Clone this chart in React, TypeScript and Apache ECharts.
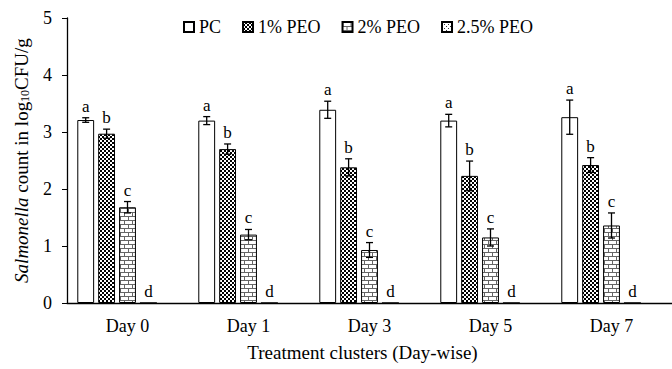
import React, { useEffect, useRef } from "react";
import * as echarts from "echarts";

const categories = ["Day 0", "Day 1", "Day 3", "Day 5", "Day 7"];
const seriesNames = ["PC", "1% PEO", "2% PEO", "2.5% PEO"];
const pcValues = [3.21, 3.2, 3.39, 3.2, 3.26];
const pcErrors = [0.04, 0.07, 0.15, 0.11, 0.3];
const peo1Values = [2.97, 2.7, 2.38, 2.23, 2.42];
const peo1Errors = [0.08, 0.09, 0.15, 0.26, 0.13];
const peo2Values = [1.68, 1.2, 0.93, 1.15, 1.36];
const peo2Errors = [0.1, 0.09, 0.13, 0.15, 0.22];
const peo25Values = [0, 0, 0, 0, 0];
const peo25Errors = [0, 0, 0, 0, 0];
const pcLetters = ["a", "a", "a", "a", "a"];
const peo1Letters = ["b", "b", "b", "b", "b"];
const peo2Letters = ["c", "c", "c", "c", "c"];
const peo25Letters = ["d", "d", "d", "d", "d"];

const FONT = "Liberation Serif";
const CAT_GAP = 0.17;
const BAR_GAP = 0.24;
const SLOTS = 5;

function makeTile(size: number, draw: (ctx: CanvasRenderingContext2D) => void) {
  const c = document.createElement("canvas");
  c.width = size;
  c.height = size;
  const ctx = c.getContext("2d") as CanvasRenderingContext2D;
  draw(ctx);
  return { image: c, repeat: "repeat", imageWidth: size, imageHeight: size } as any;
}

export default function App() {
  const ref = useRef<HTMLDivElement>(null);
  useEffect(() => {
    if (!ref.current) return;
    const chart = echarts.init(ref.current, null, { renderer: "svg" });

    const checker = makeTile(4, (ctx) => {
      ctx.fillStyle = "#000";
      ctx.fillRect(0, 0, 4, 4);
      ctx.fillStyle = "#fff";
      ctx.fillRect(0, 0, 2, 2);
      ctx.fillRect(2, 2, 2, 2);
    });
    const brick = makeTile(8, (ctx) => {
      ctx.fillStyle = "#fff";
      ctx.fillRect(0, 0, 8, 8);
      ctx.fillStyle = "#666";
      ctx.fillRect(0, 0, 8, 1);
      ctx.fillRect(0, 4, 8, 1);
      ctx.fillRect(0, 1, 1, 3);
      ctx.fillRect(4, 5, 1, 3);
    });
    const diamond = makeTile(8, (ctx) => {
      ctx.fillStyle = "#fff";
      ctx.fillRect(0, 0, 8, 8);
      ctx.fillStyle = "#333";
      const pts = [
        [4, 0], [6, 2], [4, 4], [2, 2], [0, 4], [2, 6], [6, 6],
      ];
      pts.forEach(([x, y]) => ctx.fillRect(x, y, 1, 1));
    });

    const values = [pcValues, peo1Values, peo2Values, peo25Values];
    const errors = [pcErrors, peo1Errors, peo2Errors, peo25Errors];
    const letters = [pcLetters, peo1Letters, peo2Letters, peo25Letters];
    const fills = ["#ffffff", checker, brick, diamond];

    const barSeries: any[] = seriesNames.map((name, s) => ({
      name,
      type: "bar",
      data: values[s],
      barCategoryGap: CAT_GAP * 100 + "%",
      barGap: BAR_GAP * 100 + "%",
      itemStyle: { color: fills[s], borderColor: "#000", borderWidth: 1 },
    }));
    barSeries.push({
      name: "spacer",
      type: "bar",
      data: categories.map(() => "-"),
      barCategoryGap: CAT_GAP * 100 + "%",
      barGap: BAR_GAP * 100 + "%",
    });

    const errSeries: any[] = seriesNames.map((name, s) => ({
      name: name + " err",
      type: "custom",
      data: values[s].map((v, i) => [i, v, errors[s][i]]),
      encode: { x: 0, y: 1 },
      z: 5,
      renderItem: (params: any, api: any) => {
        const cat = api.value(0);
        const mean = api.value(1);
        const e = api.value(2);
        const center = api.coord([cat, mean]);
        const band = api.size([1, 0])[0];
        const barW = (band * (1 - CAT_GAP)) / (SLOTS + (SLOTS - 1) * BAR_GAP);
        const gapW = barW * BAR_GAP;
        const total = SLOTS * barW + (SLOTS - 1) * gapW;
        const x = center[0] - total / 2 + s * (barW + gapW) + barW / 2;
        const top = api.coord([cat, mean + e])[1];
        const bot = api.coord([cat, mean - e])[1];
        const children: any[] = [];
        const ls = { stroke: "#000", lineWidth: 1.3 };
        if (e > 0) {
          children.push({ type: "line", shape: { x1: x, y1: top, x2: x, y2: bot }, style: ls });
          children.push({ type: "line", shape: { x1: x - 3.5, y1: top, x2: x + 3.5, y2: top }, style: ls });
          children.push({ type: "line", shape: { x1: x - 3.5, y1: bot, x2: x + 3.5, y2: bot }, style: ls });
        }
        children.push({
          type: "text",
          x: x,
          y: top - 3,
          style: {
            text: letters[s][params.dataIndex],
            fill: "#000",
            font: "17px " + FONT,
            align: "center",
            verticalAlign: "bottom",
          },
        });
        return { type: "group", children };
      },
    }));

    chart.setOption({
      animation: false,
      backgroundColor: "#fff",
      grid: { left: 67, top: 18, width: 609, bottom: 66 },
      legend: {
        data: seriesNames,
        left: 178,
        top: 13,
        itemWidth: 10,
        itemHeight: 10,
        itemGap: 21,
        icon: "rect",
        textStyle: { fontFamily: FONT, fontSize: 18, color: "#000" },
      },
      xAxis: {
        type: "category",
        data: categories,
        name: "Treatment clusters (Day-wise)",
        nameLocation: "middle",
        nameGap: 40,
        nameTextStyle: { fontFamily: FONT, fontSize: 19, color: "#000", padding: [0, 14, 0, 0] },
        axisLine: { lineStyle: { color: "#000", width: 1.3 } },
        axisTick: { show: false },
        axisLabel: { fontFamily: FONT, fontSize: 18, color: "#000", margin: 14 },
      },
      yAxis: {
        type: "value",
        min: 0,
        max: 5,
        interval: 1,
        name: "{i|Salmonella} count in log{s|10}CFU/g",
        nameLocation: "middle",
        nameGap: 36,
        nameTextStyle: {
          fontFamily: FONT,
          fontSize: 19,
          color: "#000",
          rich: {
            i: { fontFamily: FONT, fontSize: 19, fontStyle: "italic", color: "#000" },
            s: { fontFamily: FONT, fontSize: 12, color: "#000", verticalAlign: "bottom", padding: [7, 0, 0, 0] },
          },
        },
        axisLine: { show: true, lineStyle: { color: "#000", width: 1.3 } },
        axisTick: { show: true, inside: false, length: 5, lineStyle: { color: "#000" } },
        axisLabel: { fontFamily: FONT, fontSize: 18, color: "#000", margin: 15 },
        splitLine: { show: false },
      },
      series: [...barSeries, ...errSeries],
    });
    return () => chart.dispose();
  }, []);
  return (
    <div
      ref={ref}
      style={{ position: "fixed", left: 0, top: 0, width: 672, height: 369, background: "#fff" }}
    />
  );
}
